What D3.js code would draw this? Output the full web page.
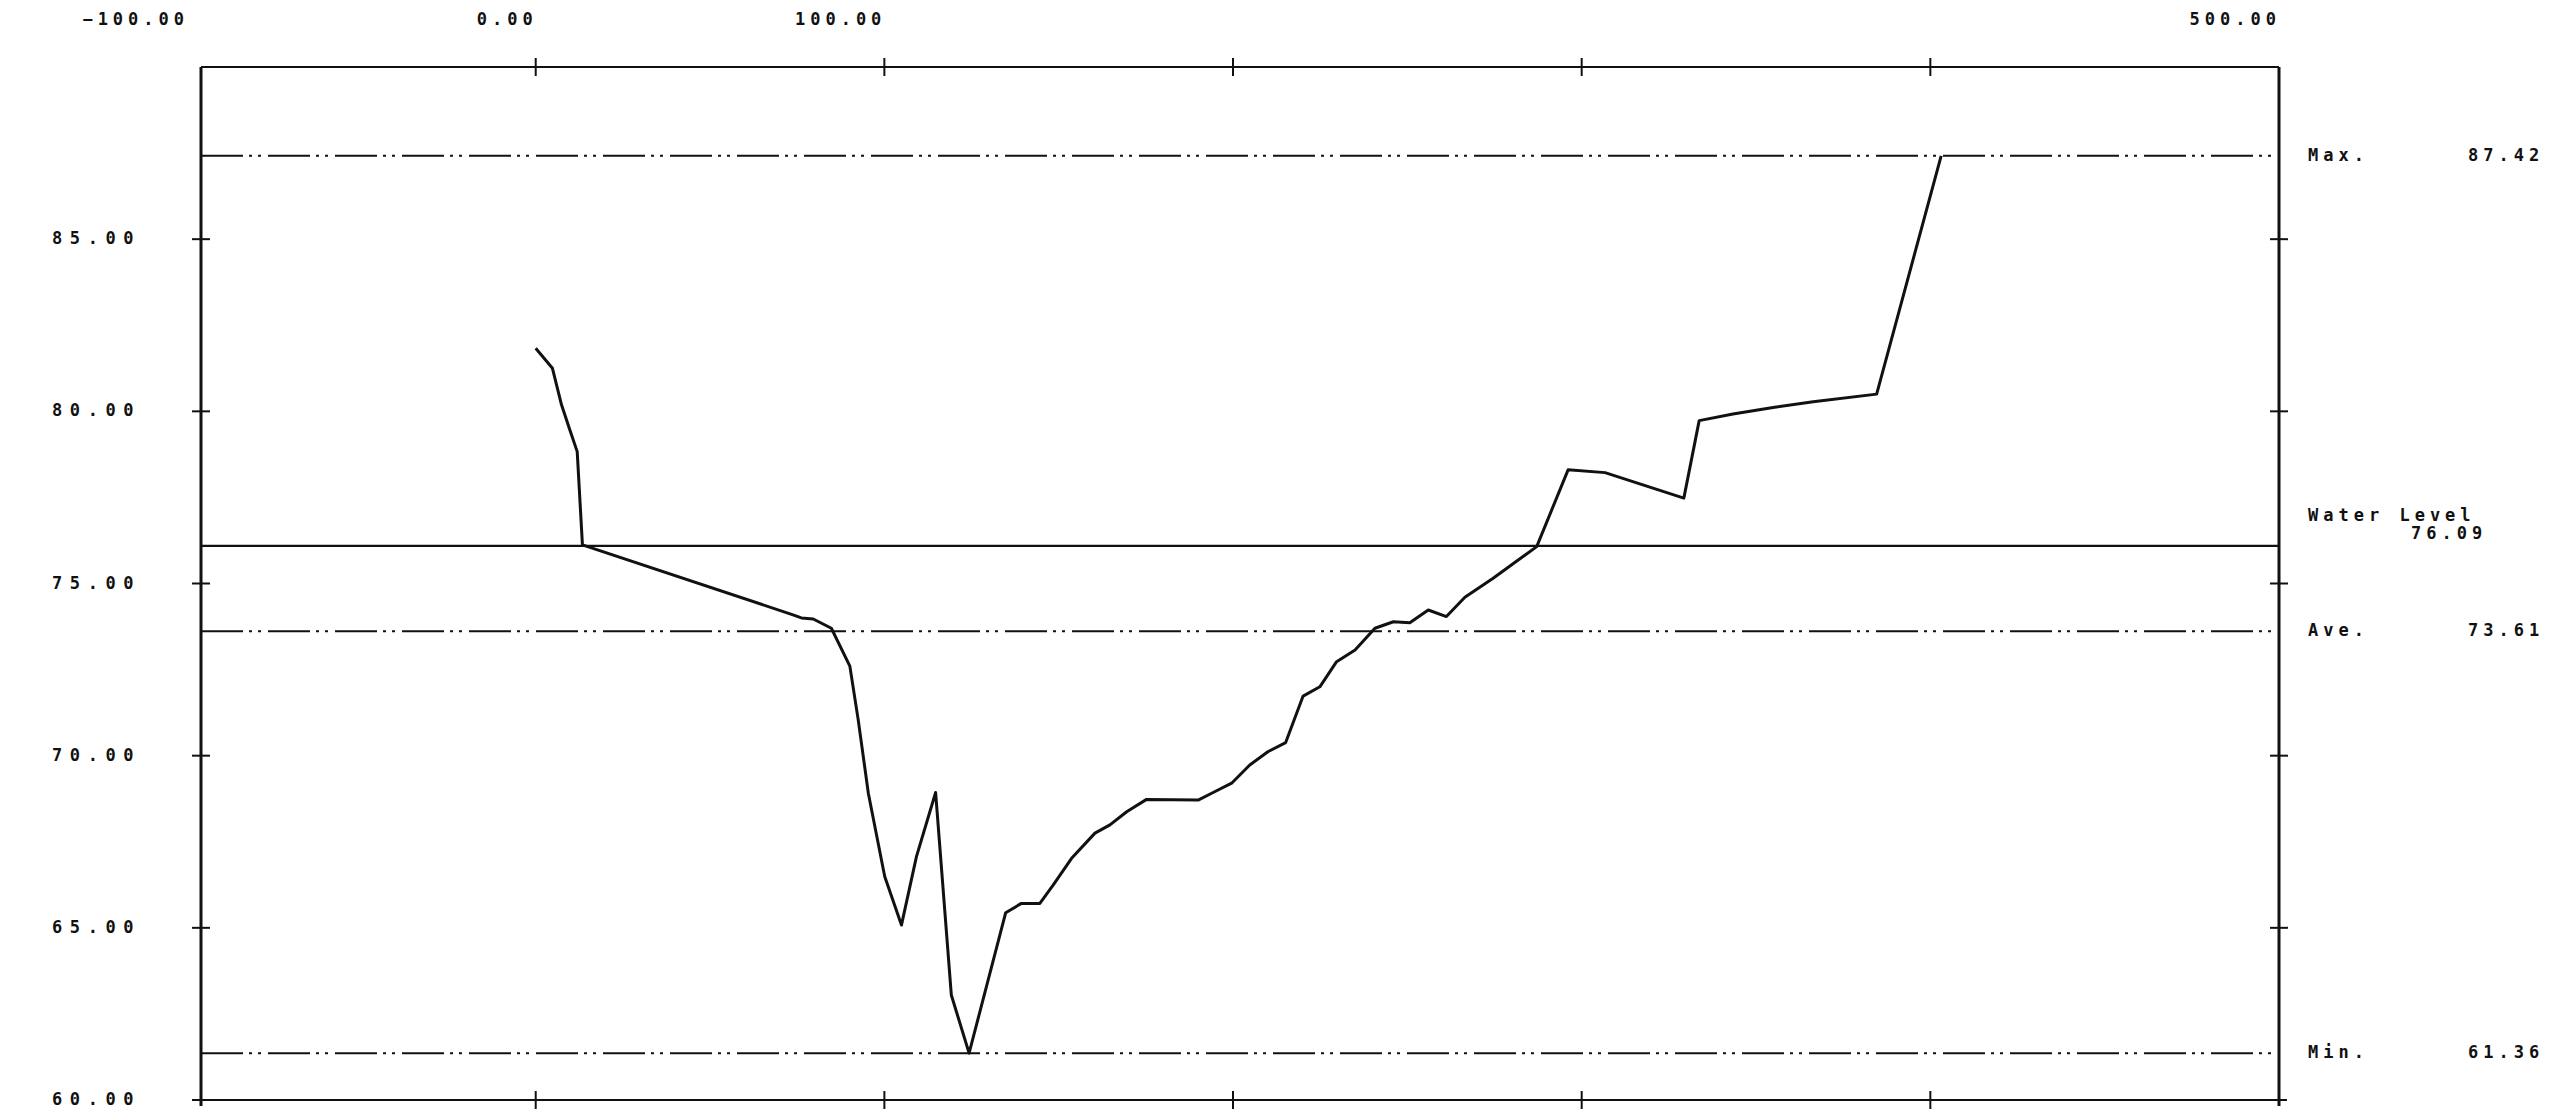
<!DOCTYPE html>
<html>
<head>
<meta charset="utf-8">
<script src="https://cdn.jsdelivr.net/npm/d3@7"></script>
<style>
  html, body { margin: 0; padding: 0; background: #fff; }
  svg { display: block; }
  text { font-family: "DejaVu Sans Mono", "Liberation Mono", monospace; font-weight: bold; font-size: 17px; fill: #111; letter-spacing: 5px; }
  text.yl { letter-spacing: 7.6px; }
</style>
</head>
<body>
<svg id="chart" width="2563" height="1112"></svg>
<script>
// ---- data ----
const stations = [0, 4.8, 7.4, 9.8, 11.9, 13.4, 73.8, 76.2, 79.6, 84.8, 90.1, 92.5, 95.4, 100.1, 104.9, 109.2, 114.7, 119.2, 124.3, 134.8, 139.3, 144.6, 148.4, 153.7, 160.4, 164.7, 169.5, 175.2, 190.0, 194.3, 199.6, 204.8, 210.1, 215.1, 220.1, 224.9, 229.7, 235.0, 240.7, 246.0, 250.7, 256.0, 261.2, 266.5, 274.6, 281.8, 287.1, 296.1, 306.7, 329.3, 333.7, 343.4, 354.9, 366.4, 384.6, 403.1];
const elevations = [81.83, 81.25, 80.19, 79.46, 78.83, 76.12, 74.09, 74.00, 73.97, 73.70, 72.60, 71.04, 68.91, 66.49, 65.08, 67.07, 68.93, 63.05, 61.36, 65.44, 65.71, 65.71, 66.24, 67.02, 67.75, 67.99, 68.37, 68.73, 68.71, 68.93, 69.20, 69.73, 70.12, 70.38, 71.73, 72.00, 72.73, 73.07, 73.70, 73.89, 73.86, 74.23, 74.04, 74.60, 75.15, 75.68, 76.07, 78.30, 78.22, 77.48, 79.73, 79.92, 80.11, 80.28, 80.50, 87.42];
const xTickValues = [0, 100, 200, 300, 400];
const xLabelValues = [-100, 0, 100, 500];
const yTickValues = [60, 65, 70, 75, 80, 85];
const statNames = ["Max.", "Ave.", "Min."];
const statValues = [87.42, 73.61, 61.36];
const waterLabel = "Water Level";
const waterLevel = 76.09;

// ---- layout ----
const svg = d3.select("#chart");
const L = 201, R = 2279, T = 67, B = 1100;
const x = d3.scaleLinear().domain([-96, 500]).range([L, R]);
const y = d3.scaleLinear().domain([60, 90]).range([B, T]);
const fmt = d3.format(".2f");

const g = svg.append("g");

// reference lines (dash-dot-dot)
g.selectAll("line.stat").data(statValues).join("line")
  .attr("class", "stat")
  .attr("x1", L).attr("x2", R)
  .attr("y1", d => y(d)).attr("y2", d => y(d))
  .attr("stroke", "#111").attr("stroke-width", 2)
  .attr("stroke-dasharray", "42,6,3,6,3,7");

// water level (solid)
g.append("line")
  .attr("x1", L).attr("x2", R)
  .attr("y1", y(waterLevel)).attr("y2", y(waterLevel))
  .attr("stroke", "#111").attr("stroke-width", 2.2);

// frame
g.append("line").attr("x1", L).attr("x2", R).attr("y1", T).attr("y2", T).attr("stroke", "#111").attr("stroke-width", 2);
g.append("line").attr("x1", L - 8).attr("x2", R + 8).attr("y1", B).attr("y2", B).attr("stroke", "#111").attr("stroke-width", 2);
g.append("line").attr("x1", L).attr("x2", L).attr("y1", T).attr("y2", B + 6).attr("stroke", "#111").attr("stroke-width", 3);
g.append("line").attr("x1", R).attr("x2", R).attr("y1", T).attr("y2", B + 6).attr("stroke", "#111").attr("stroke-width", 3);

// x ticks (crossing top and bottom)
[T, B].forEach(yy => {
  g.selectAll(null).data(xTickValues).join("line")
    .attr("x1", d => x(d)).attr("x2", d => x(d))
    .attr("y1", yy - 9).attr("y2", yy + 9)
    .attr("stroke", "#111").attr("stroke-width", 2);
});
// y ticks (crossing left and right)
g.selectAll(null).data(yTickValues).join("line")
  .attr("x1", L - 9).attr("x2", L + 9)
  .attr("y1", d => y(d)).attr("y2", d => y(d))
  .attr("stroke", "#111").attr("stroke-width", 2);
g.selectAll(null).data(yTickValues.filter(v => v > 60)).join("line")
  .attr("x1", R - 9).attr("x2", R + 9)
  .attr("y1", d => y(d)).attr("y2", d => y(d))
  .attr("stroke", "#111").attr("stroke-width", 2);

// x labels
g.selectAll("text.xl").data(xLabelValues).join("text")
  .attr("class", "xl")
  .attr("x", d => x(d) + 2)
  .attr("y", 20)
  .attr("text-anchor", "end")
  .attr("dominant-baseline", "middle")
  .text(d => fmt(d));

// y labels
g.selectAll("text.yl").data(yTickValues).join("text")
  .attr("class", "yl")
  .attr("x", 52)
  .attr("y", d => y(d))
  .attr("dominant-baseline", "middle")
  .text(d => fmt(d));

// stat labels on right
g.selectAll("text.sn").data(statNames).join("text")
  .attr("class", "sn")
  .attr("x", 2308)
  .attr("y", (d, i) => y(statValues[i]))
  .attr("dominant-baseline", "middle")
  .text(d => d);
g.selectAll("text.sv").data(statValues).join("text")
  .attr("class", "sv")
  .attr("x", 2468)
  .attr("y", d => y(d))
  .attr("dominant-baseline", "middle")
  .text(d => fmt(d));
g.append("text").attr("x", 2308).attr("y", y(waterLevel) - 30)
  .attr("dominant-baseline", "middle").text(waterLabel);
g.append("text").attr("x", 2411).attr("y", y(waterLevel) - 12)
  .attr("dominant-baseline", "middle").text(fmt(waterLevel));

// profile line
const pts = stations.map((s, i) => [s, elevations[i]]);
g.append("path")
  .datum(pts)
  .attr("fill", "none")
  .attr("stroke", "#111")
  .attr("stroke-width", 3)
  .attr("stroke-linejoin", "round")
  .attr("d", d3.line().x(d => x(d[0])).y(d => y(d[1])));
</script>
</body>
</html>
